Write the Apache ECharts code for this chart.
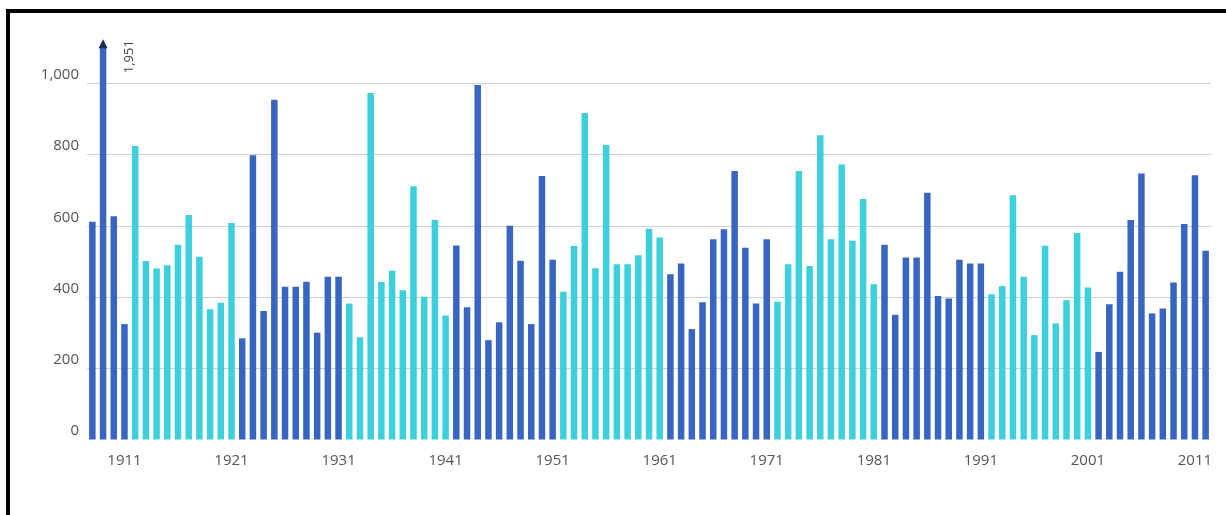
<!DOCTYPE html>
<html>
<head>
<meta charset="utf-8">
<script src="https://cdn.jsdelivr.net/npm/echarts@6/dist/echarts.min.js"></script>
<style>
  html, body { margin: 0; padding: 0; background: #ffffff; }
  #chart { position: absolute; left: 0; top: 0; width: 1226px; height: 515px; }
  #frame { position: absolute; left: 6px; top: 9px; right: 0; bottom: 0;
           border-top: 4px solid #000; border-left: 4px solid #000; pointer-events: none; }
</style>
</head>
<body>
<div id="chart"></div>
<div id="frame"></div>
<script>
const years = [];
for (let y = 1908; y <= 2012; y++) years.push(String(y));

const values = [
  611, 1951, 627, 324,
  824, 501, 480, 489, 547, 630, 513, 366, 384, 608,
  284, 798, 361, 954, 429, 429, 443, 300, 457, 457,
  382, 287, 973, 442, 474, 419, 711, 401, 616, 348,
  545, 371, 995, 279, 329, 600, 502, 324, 740, 505,
  415, 543, 917, 481, 827, 492, 492, 517, 592, 567,
  464, 494, 310, 385, 562, 590, 754, 538, 382, 562,
  387, 492, 754, 487, 854, 562, 772, 558, 675, 436,
  547, 350, 511, 511, 693, 403, 396, 505, 494, 494,
  408, 431, 686, 457, 293, 544, 326, 391, 580, 427,
  246, 380, 471, 616, 747, 354, 368, 441, 605, 742, 530
];

const yTicks = [0, 200, 400, 600, 800, 1000];
const offScaleYear = '1909';
const offScaleLabel = '1,951';

const DARK = '#3864c2';
const CYAN = '#3ccfdc';

function blockColor(i) {
  const b = i < 4 ? 0 : Math.min(10, Math.floor((i - 4) / 10) + 1);
  return b % 2 === 0 ? DARK : CYAN;
}

const chart = echarts.init(document.getElementById('chart'));
const yMax = 1100;

chart.setOption({
  animation: false,
  backgroundColor: '#ffffff',
  grid: { left: 87, right: 15, top: 47.7, bottom: 75.5 },
  xAxis: {
    type: 'category',
    data: years,
    axisLine: { show: false },
    axisTick: { show: false },
    axisLabel: {
      interval: 0,
      formatter: v => (Number(v) % 10 === 1 ? v : ''),
      color: '#555',
      fontFamily: 'Open Sans',
      fontSize: 15,
      margin: 14
    }
  },
  yAxis: {
    type: 'value',
    min: 0,
    max: yMax,
    interval: 200,
    axisLine: { show: false },
    axisTick: { show: false },
    splitLine: { show: true, showMaxLine: false, showMinLine: false, lineStyle: { color: '#cfcfcf', width: 1 } },
    axisLabel: {
      showMaxLabel: false,
      formatter: v => (yTicks.indexOf(v) >= 0 ? v.toLocaleString('en-US') : ''),
      color: '#555',
      fontFamily: 'Open Sans',
      fontSize: 15,
      margin: 8,
      verticalAlign: 'bottom',
      padding: [0, 0, 1, 0]
    }
  },
  series: [{
    type: 'bar',
    barWidth: 6.5,
    data: values.map((v, i) => ({ value: v, itemStyle: { color: blockColor(i) } })),
    markPoint: {
      silent: true,
      data: [
        {
          coord: [offScaleYear, yMax],
          symbol: 'triangle',
          symbolSize: [9, 9],
          symbolOffset: [0, -4],
          itemStyle: { color: '#1c2c55' },
          label: { show: false }
        },
        {
          coord: [offScaleYear, yMax],
          symbol: 'circle',
          symbolSize: 0,
          label: {
            show: true,
            formatter: offScaleLabel,
            rotate: 90,
            color: '#444',
            fontFamily: 'Open Sans',
            fontSize: 13,
            position: 'inside',
            offset: [-9, 26]
          }
        }
      ]
    }
  }]
});
</script>
</body>
</html>
